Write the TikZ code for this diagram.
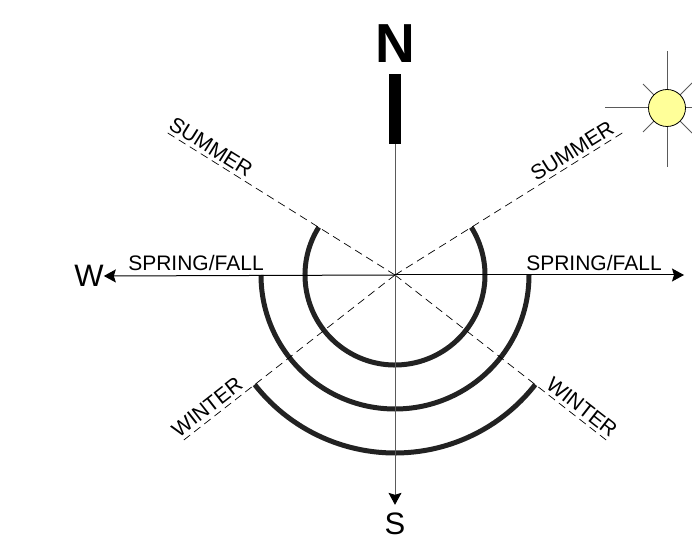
\documentclass[tikz,border=0pt]{standalone}
\usepackage{fontspec}
\setmainfont{Liberation Sans}
\usepackage{xcolor}
\usetikzlibrary{arrows.meta,positioning}
\definecolor{sunyellow}{RGB}{255,255,153}
\definecolor{pathgray}{RGB}{34,34,34}
\definecolor{raygray}{RGB}{90,90,90}

\begin{document}
\begin{tikzpicture}[
        x=1pt, y=1pt,
        axis/.style={line width=1pt, -{Stealth[length=12pt,width=13pt,inset=2pt,black]}},
        season/.style={line width=0.7pt, dash pattern=on 8pt off 5pt},
        sunpath/.style={line width=5pt, pathgray},
        ray/.style={line width=1pt, raygray},
        seasonlabel/.style={font=\fontsize{21}{21}\selectfont, inner sep=0pt},
        compass/.style={font=\fontsize{31}{31}\selectfont, inner sep=0pt}
    ]
        \useasboundingbox (-395,-265) rectangle (297,275);
        \coordinate (c) at (0,0);
        \coordinate (se) at (32:272);
        \coordinate (sw) at (148:272);
        \coordinate (we) at (218:271);
        \coordinate (ee) at (-38:271);
        \coordinate (e) at (289,0);

        % sun paths
        \draw[sunpath] (148:90) arc (148:392:90);
        \draw[sunpath] (180:134) arc (180:360:134);
        \draw[sunpath] (218:178) arc (218:322:178);

        % seasons
        \draw[season] (c) -- (se);
        \draw[season] (c) -- (sw);
        \draw[season] (c) -- (we);
        \draw[season] (c) -- (ee);

        % compass
        \node[fill=black, inner sep=0pt, minimum width=12pt, minimum height=70pt] (bar) at (0,166) {};
        \node[font=\bfseries\fontsize{55}{55}\selectfont, inner sep=0pt, above=11pt of bar] (n) {N};
        \node[compass] (w) at (-306,-1) {W};
        \node[compass] (s) at (0,-249) {S};
        \draw[ray] (bar) -- (c);
        \draw[axis, raygray, shorten >=8pt] (c) -- (s.north);
        \draw[axis] (c) -- (w.east);
        \draw[axis] (c) -- (e);

        % labels
        \node[seasonlabel, anchor=base] (sfl) at (-199,4.5) {SPRING/FALL};
        \node[seasonlabel, anchor=base] (sfr) at (199,4.5) {SPRING/FALL};
        \node[seasonlabel, rotate=32] (sumr) at (177,124) {SUMMER};
        \node[seasonlabel, rotate=-32] (suml) at (-184,128) {SUMMER};
        \node[seasonlabel, rotate=38] (winl) at (-188,-132) {WINTER};
        \node[seasonlabel, rotate=-38] (winr) at (187,-132) {WINTER};

        % sun
        \coordinate (sunc) at (272,167);
        \coordinate (r1) at (297,167);
        \coordinate (r2) at (297,192);
        \coordinate (r3) at (272,224);
        \coordinate (r4) at (248,191);
        \coordinate (r5) at (210,167);
        \coordinate (r6) at (248,143);
        \coordinate (r7) at (272,108);
        \coordinate (r8) at (297,142);
        \foreach \i in {1,...,8}
            \draw[ray] (sunc) -- (r\i);
        \node[circle, draw, fill=sunyellow, line width=0.8pt, minimum size=37pt, inner sep=0pt] (sun) at (sunc) {};
    \end{tikzpicture}
\end{document}
